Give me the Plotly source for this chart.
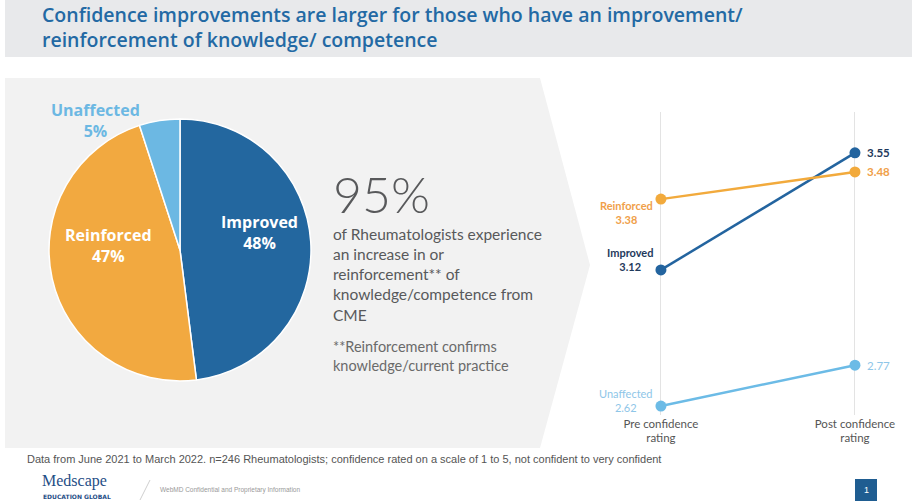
import plotly.graph_objects as go

W, H = 912, 502

# ---- data ----
categories = ["Improved", "Reinforced", "Unaffected"]
shares = [48, 47, 5]
pre_rating = [3.12, 3.38, 2.62]
post_rating = [3.55, 3.48, 2.77]
stage_labels = ["Pre confidence<br>rating", "Post confidence<br>rating"]

slice_colors = ["#23679f", "#f2a940", "#6cb8e3"]
line_colors = ["#23649f", "#f2aa3c", "#6cbbe6"]
left_label_colors = ["#1f3a5c", "#f0a04a", "#8ec6e8"]
right_label_colors = ["#1f3a5c", "#f0a04a", "#8ec6e8"]

def px(x):
    return x / W

def py(y):
    return 1 - y / H

fig = go.Figure()

# pie
fig.add_trace(go.Pie(
    labels=categories, values=shares, sort=False, direction="clockwise", rotation=0,
    marker=dict(colors=slice_colors, line=dict(color="white", width=1.5)),
    textinfo="none", hoverinfo="label+percent", showlegend=False,
    domain=dict(x=[px(49), px(311)], y=[py(381), py(119)]),
))

# slope lines
for i, cat in enumerate(categories):
    fig.add_trace(go.Scatter(
        x=[0, 1], y=[pre_rating[i], post_rating[i]], mode="lines+markers",
        line=dict(color=line_colors[i], width=2.5),
        marker=dict(size=11, color=line_colors[i]),
        showlegend=False, name=cat,
    ))

fig.update_layout(
    width=W, height=H, margin=dict(l=0, r=0, t=0, b=0),
    paper_bgcolor="white", plot_bgcolor="rgba(0,0,0,0)",
    xaxis=dict(domain=[px(600), 1.0], range=[-0.314, 1.294],
               tickvals=[0, 1], ticktext=stage_labels, showgrid=True,
               gridcolor="#e3e3e3", gridwidth=1, zeroline=False, showline=False,
               tickfont=dict(family="Lato, Open Sans, sans-serif", size=11.5, color="#555555"),
               ticks="", fixedrange=True),
    yaxis=dict(domain=[py(415), py(112)], range=[2.587, 3.70], visible=False,
               showgrid=False, zeroline=False),
    font=dict(family="Lato, Open Sans, sans-serif"),
)

shapes = []
# title band
shapes.append(dict(type="rect", xref="paper", yref="paper", x0=px(5), x1=1.0,
                   y0=py(57), y1=1.0, fillcolor="#e8e9eb", line=dict(width=0), layer="below"))
# gray chevron panel
pts = [(5, 78), (540, 78), (590, 265), (540, 448), (5, 448)]
path = "M " + " L ".join(f"{px(x):.5f},{py(y):.5f}" for x, y in pts) + " Z"
shapes.append(dict(type="path", xref="paper", yref="paper", path=path,
                   fillcolor="#f2f2f2", line=dict(width=0), layer="below"))
# footer slash
shapes.append(dict(type="line", xref="paper", yref="paper", x0=px(140), y0=py(500),
                   x1=px(150), y1=py(480), line=dict(color="#cfcfcf", width=1)))
# page box
shapes.append(dict(type="rect", xref="paper", yref="paper", x0=px(855), x1=px(877),
                   y0=py(501), y1=py(479), fillcolor="#1f5d91", line=dict(width=0)))
fig.update_layout(shapes=shapes)

ann = []
def text(x, y, s, size, color, family="Lato, Open Sans, sans-serif", weight="normal",
         xanchor="left", yanchor="middle", align="left"):
    ann.append(dict(x=px(x), y=py(y), xref="paper", yref="paper", text=s, showarrow=False,
                    xanchor=xanchor, yanchor=yanchor, align=align,
                    font=dict(size=size, color=color, family=family, weight=weight)))

# title
text(40, 27, "Confidence improvements are larger for those who have an improvement/<br>"
     "reinforcement of knowledge/ competence", 19.5, "#2369a4",
     family="Open Sans, sans-serif", weight=600)

# pie labels
pie_font = "Open Sans, sans-serif"
text(259, 232, f"{categories[0]}<br>{shares[0]}%", 16, "white", family=pie_font, weight=700,
     xanchor="center", align="center")
text(108, 245, f"{categories[1]}<br>{shares[1]}%", 16, "white", family=pie_font, weight=700,
     xanchor="center", align="center")
text(95, 120, f"{categories[2]}<br>{shares[2]}%", 16, slice_colors[2], family=pie_font, weight=700,
     xanchor="center", align="center")

# big stat
text(331, 194, "95%", 50, "#58595b", family="Lato, sans-serif", weight=300)
text(331, 274, "of Rheumatologists experience<br>an increase in or<br>reinforcement** of<br>"
     "knowledge/competence from<br>CME", 15.5, "#58595b")
text(331, 356, "**Reinforcement confirms<br>knowledge/current practice", 14.5, "#6a6a6a")

# slope labels (data coords)
left_offsets = [10, -13, 6]
for i, cat in enumerate(categories):
    ann.append(dict(x=0, y=pre_rating[i], xref="x", yref="y",
                    text=f"<b>{cat}</b><br><b>{pre_rating[i]:.2f}</b>" if i < 2 else f"{cat}<br>{pre_rating[i]:.2f}",
                    showarrow=False, xanchor="right", yanchor="middle", align="center",
                    xshift=-6, yshift=left_offsets[i],
                    font=dict(size=11, color=left_label_colors[i], family="Lato, sans-serif")))
    ann.append(dict(x=1, y=post_rating[i], xref="x", yref="y",
                    text=f"<b>{post_rating[i]:.2f}</b>" if i < 2 else f"{post_rating[i]:.2f}",
                    showarrow=False, xanchor="left", yanchor="middle",
                    xshift=10, yshift=0,
                    font=dict(size=11.5, color=right_label_colors[i], family="Lato, sans-serif")))

# footer
text(25, 459, "Data from June 2021 to March 2022. n=246 Rheumatologists; confidence rated on a scale "
     "of 1 to 5, not confident to very confident", 11, "#555555",
     family="Liberation Sans Narrow, Arial Narrow, Liberation Sans, sans-serif")
text(40, 481, "Medscape", 16, "#1f4e86", family="Liberation Serif, serif")
text(41, 496, "EDUCATION <b>GLOBAL</b>", 6, "#1f4e86",
     family="DejaVu Sans, sans-serif", weight=700)
text(158, 490, "WebMD Confidential and Proprietary Information", 6.5, "#999999",
     family="Liberation Sans, sans-serif")
text(866, 490, "1", 9, "white", family="Liberation Sans, sans-serif", xanchor="center")

fig.update_layout(annotations=ann)
fig.write_html("out.html")
